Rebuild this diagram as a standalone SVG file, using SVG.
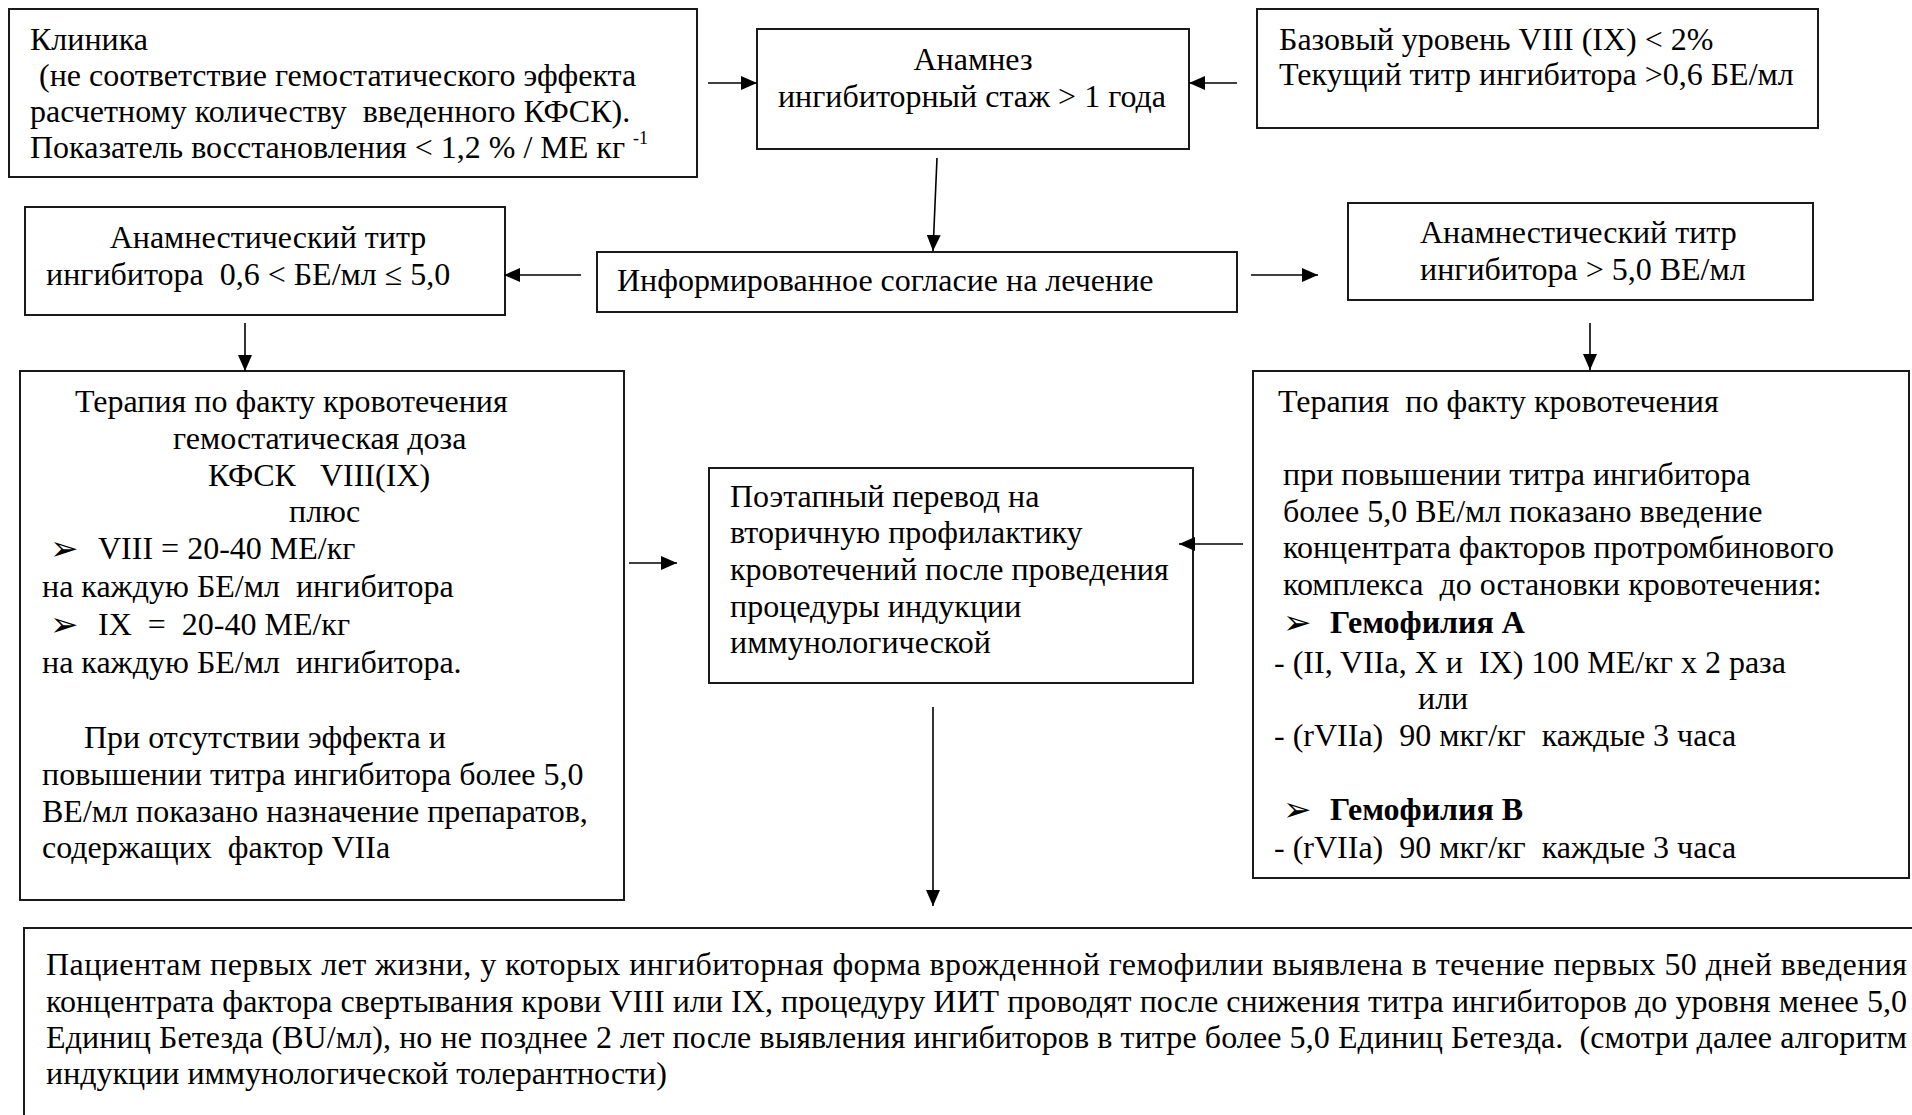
<svg xmlns="http://www.w3.org/2000/svg" width="1912" height="1115" viewBox="0 0 1912 1115">
<style>
  .bx{fill:#fff;stroke:#1a1a1a;stroke-width:2}
  .t{font-family:"Liberation Serif","Times New Roman",serif;font-size:32px;fill:#000;white-space:pre}
  .c{text-anchor:middle}
  .b{font-weight:bold}
  .sup{font-size:18px}
  .bul{font-family:"DejaVu Sans",sans-serif;font-size:34px;fill:#000}
  .ar{stroke:#000;stroke-width:1.6;fill:none;marker-end:url(#ah)}
</style>
<defs>
  <marker id="ah" markerUnits="userSpaceOnUse" markerWidth="16" markerHeight="14" refX="16" refY="7" orient="auto">
    <path d="M0,0 L16,7 L0,14 z" fill="#000"/>
  </marker>
</defs>
<rect width="1912" height="1115" fill="#fff"/>

<g id="klinika">
  <rect class="bx" x="9" y="9" width="688" height="168"/>
  <text class="t" x="30" y="50">Клиника</text>
  <text class="t" x="39" y="86">(не соответствие гемостатического эффекта</text>
  <text class="t" x="30" y="122">расчетному количеству  введенного КФСК).</text>
  <text class="t" x="30" y="158">Показатель восстановления &lt; 1,2 % / МЕ кг <tspan class="sup" dy="-14">-1</tspan></text>
</g>

<g id="anamnez">
  <rect class="bx" x="757" y="29" width="432" height="120"/>
  <text class="t c" x="973" y="70">Анамнез</text>
  <text class="t c" x="972" y="107">ингибиторный стаж &gt; 1 года</text>
</g>

<g id="bazovyi">
  <rect class="bx" x="1257" y="9" width="561" height="119"/>
  <text class="t" x="1279" y="50">Базовый уровень VIII (IX) &lt; 2%</text>
  <text class="t" x="1279" y="85">Текущий титр ингибитора &gt;0,6 БЕ/мл</text>
</g>

<g id="titr-low">
  <rect class="bx" x="25" y="207" width="480" height="108"/>
  <text class="t c" x="268" y="248">Анамнестический титр</text>
  <text class="t" x="46" y="285">ингибитора  0,6 &lt; БЕ/мл ≤ 5,0</text>
</g>

<g id="soglasie">
  <rect class="bx" x="597" y="252" width="640" height="60"/>
  <text class="t" x="617" y="291">Информированное согласие на лечение</text>
</g>

<g id="titr-high">
  <rect class="bx" x="1348" y="203" width="465" height="97"/>
  <text class="t" x="1420" y="243">Анамнестический титр</text>
  <text class="t" x="1420" y="280">ингибитора &gt; 5,0 ВЕ/мл</text>
</g>

<g id="therapy-left">
  <rect class="bx" x="20" y="371" width="604" height="529"/>
  <text class="t" x="75" y="412">Терапия по факту кровотечения</text>
  <text class="t" x="173" y="449">гемостатическая доза</text>
  <text class="t" x="208" y="486">КФСК   VIII(IX)</text>
  <text class="t" x="289" y="522">плюс</text>
  <text class="bul" x="50" y="560">➢</text>
  <text class="t" x="98" y="559">VIII = 20-40 МЕ/кг</text>
  <text class="t" x="42" y="597">на каждую БЕ/мл  ингибитора</text>
  <text class="bul" x="50" y="636">➢</text>
  <text class="t" x="98" y="635">IX  =  20-40 МЕ/кг</text>
  <text class="t" x="42" y="673">на каждую БЕ/мл  ингибитора.</text>
  <text class="t" x="84" y="748">При отсутствии эффекта и</text>
  <text class="t" x="42" y="785">повышении титра ингибитора более 5,0</text>
  <text class="t" x="42" y="822">ВЕ/мл показано назначение препаратов,</text>
  <text class="t" x="42" y="858">содержащих  фактор VIIa</text>
</g>

<g id="perevod">
  <rect class="bx" x="709" y="468" width="484" height="215"/>
  <text class="t" x="730" y="507">Поэтапный перевод на</text>
  <text class="t" x="730" y="543">вторичную профилактику</text>
  <text class="t" x="730" y="580">кровотечений после проведения</text>
  <text class="t" x="730" y="617">процедуры индукции</text>
  <text class="t" x="730" y="653">иммунологической</text>
</g>

<g id="therapy-right">
  <rect class="bx" x="1253" y="371" width="656" height="507"/>
  <text class="t" x="1278" y="412">Терапия  по факту кровотечения</text>
  <text class="t" x="1283" y="485">при повышении титра ингибитора</text>
  <text class="t" x="1283" y="522">более 5,0 ВЕ/мл показано введение</text>
  <text class="t" x="1283" y="558">концентрата факторов протромбинового</text>
  <text class="t" x="1283" y="595">комплекса  до остановки кровотечения:</text>
  <text class="bul" x="1283" y="634">➢</text>
  <text class="t b" x="1330" y="633">Гемофилия А</text>
  <text class="t" x="1274" y="673">- (II, VIIa, X и  IX) 100 МЕ/кг х 2 раза</text>
  <text class="t" x="1418" y="709">или</text>
  <text class="t" x="1274" y="746">- (rVIIa)  90 мкг/кг  каждые 3 часа</text>
  <text class="bul" x="1283" y="821">➢</text>
  <text class="t b" x="1330" y="820">Гемофилия В</text>
  <text class="t" x="1274" y="858">- (rVIIa)  90 мкг/кг  каждые 3 часа</text>
</g>

<g id="note">
  <rect class="bx" x="24" y="928" width="1910" height="210"/>
  <text class="t" x="46" y="975" textLength="1861" lengthAdjust="spacing">Пациентам первых лет жизни, у которых ингибиторная форма врожденной гемофилии выявлена в течение первых 50 дней введения</text>
  <text class="t" x="46" y="1012" textLength="1861" lengthAdjust="spacing">концентрата фактора свертывания крови VIII или IX, процедуру ИИТ проводят после снижения титра ингибиторов до уровня менее 5,0</text>
  <text class="t" x="46" y="1048" textLength="1861" lengthAdjust="spacing">Единиц Бетезда (BU/мл), но не позднее 2 лет после выявления ингибиторов в титре более 5,0 Единиц Бетезда.  (смотри далее алгоритм</text>
  <text class="t" x="46" y="1084">индукции иммунологической толерантности)</text>
</g>

<g id="connectors">
  <line class="ar" x1="708" y1="83" x2="757" y2="83"/>
  <line class="ar" x1="1237" y1="83" x2="1189" y2="83"/>
  <line class="ar" x1="937" y1="158" x2="933" y2="251"/>
  <line class="ar" x1="581" y1="275" x2="504" y2="275"/>
  <line class="ar" x1="1251" y1="275" x2="1318" y2="275"/>
  <line class="ar" x1="245" y1="323" x2="245" y2="371"/>
  <line class="ar" x1="1590" y1="323" x2="1590" y2="370"/>
  <line class="ar" x1="629" y1="563" x2="677" y2="563"/>
  <line class="ar" x1="1243" y1="544" x2="1179" y2="544"/>
  <line class="ar" x1="933" y1="707" x2="933" y2="906"/>
</g>
</svg>
